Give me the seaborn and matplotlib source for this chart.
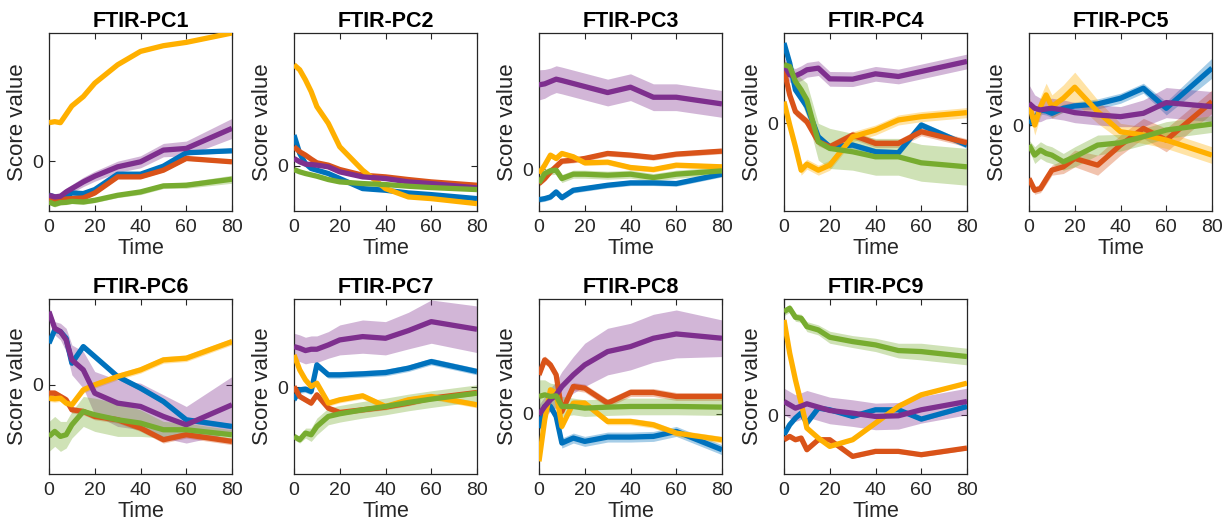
import matplotlib
matplotlib.use("Agg")
import matplotlib.pyplot as plt
import seaborn as sns
import numpy as np
import pandas as pd

TIME = [0, 2.5, 5, 7.5, 10, 15, 20, 30, 40, 50, 60, 80]
SERIES = ["blue", "red", "yellow", "purple", "green"]
COLORS = {"blue": "#0072BD", "red": "#D95319", "yellow": "#FFB000",
          "purple": "#7E2F8E", "green": "#77AC30"}
TITLES = [f"FTIR-PC{i}" for i in range(1, 10)]
XTICKS = [0, 20, 40, 60, 80]

# ---------- panel data (means) ----------
PC1 = {
    "blue":   [-1.02, -1.07, -1.15, -1.05, -0.95, -0.97, -0.85, -0.39, -0.39, -0.15, 0.25, 0.31],
    "red":    [-1.12, -1.17, -1.15, -1.13, -1.12, -1.10, -0.95, -0.47, -0.47, -0.27, 0.08, -0.02],
    "yellow": [1.15, 1.18, 1.15, 1.40, 1.65, 1.93, 2.33, 2.88, 3.28, 3.45, 3.55, 3.83],
    "purple": [-1.02, -1.07, -1.05, -0.92, -0.82, -0.62, -0.45, -0.17, -0.02, 0.33, 0.38, 0.98],
    "green":  [-1.22, -1.29, -1.24, -1.23, -1.20, -1.22, -1.17, -1.02, -0.92, -0.74, -0.72, -0.54],
}
PC2 = {
    "blue":   [0.92, 0.37, 0.07, -0.08, -0.13, -0.23, -0.38, -0.68, -0.73, -0.81, -0.86, -0.98],
    "red":    [0.57, 0.42, 0.32, 0.20, 0.09, 0.02, -0.11, -0.28, -0.33, -0.41, -0.48, -0.58],
    "yellow": [3.02, 2.87, 2.57, 2.22, 1.77, 1.27, 0.57, -0.13, -0.68, -0.93, -0.98, -1.13],
    "purple": [0.22, 0.12, 0.05, 0.04, 0.02, -0.03, -0.18, -0.33, -0.38, -0.48, -0.53, -0.66],
    "green":  [-0.11, -0.18, -0.23, -0.27, -0.31, -0.41, -0.48, -0.53, -0.56, -0.61, -0.65, -0.71],
}
PC3 = {
    "blue":   [-0.91, -0.88, -0.83, -0.68, -0.85, -0.63, -0.58, -0.48, -0.41, -0.41, -0.43, -0.15],
    "red":    [-0.43, -0.28, -0.08, 0.08, 0.24, 0.27, 0.32, 0.47, 0.42, 0.35, 0.45, 0.54],
    "yellow": [-0.13, 0.12, 0.42, 0.32, 0.47, 0.37, 0.19, 0.21, 0.05, -0.01, 0.12, 0.07],
    "purple": [2.52, 2.55, 2.62, 2.69, 2.65, 2.56, 2.47, 2.29, 2.45, 2.15, 2.15, 1.95],
    "green":  [-0.41, -0.13, -0.05, -0.03, -0.28, -0.15, -0.15, -0.18, -0.15, -0.25, -0.15, -0.05],
}
PC4 = {
    "blue":   [2.40, 1.80, 1.00, 0.75, 0.50, -0.40, -0.70, -0.65, -0.85, -0.88, -0.05, -0.65],
    "red":    [1.60, 0.85, 0.35, 0.20, 0.05, -0.55, -0.70, -0.35, -0.60, -0.60, -0.25, -0.58],
    "yellow": [0.65, -0.05, -0.70, -1.40, -1.22, -1.40, -1.25, -0.40, -0.20, 0.10, 0.20, 0.32],
    "purple": [1.75, 1.45, 1.42, 1.50, 1.60, 1.65, 1.33, 1.32, 1.48, 1.40, 1.55, 1.85],
    "green":  [1.75, 1.70, 1.25, 1.00, 0.70, -0.55, -0.75, -0.85, -1.00, -1.00, -1.18, -1.30],
}
PC5 = {
    "blue":   [0.05, 0.20, 0.45, 0.42, 0.35, 0.50, 0.57, 0.63, 0.80, 1.10, 0.50, 1.70],
    "red":    [-1.60, -1.95, -1.90, -1.62, -1.35, -1.25, -1.00, -1.20, -0.60, -0.10, -0.45, 0.70],
    "yellow": [0.65, 0.00, 0.55, 0.90, 0.55, 0.80, 1.13, 0.40, -0.20, -0.30, -0.45, -0.90],
    "purple": [0.65, 0.50, 0.45, 0.48, 0.50, 0.45, 0.37, 0.30, 0.25, 0.35, 0.67, 0.55],
    "green":  [-0.60, -0.90, -0.75, -0.85, -0.90, -1.10, -0.95, -0.60, -0.53, -0.35, -0.15, 0.03],
}
PC6 = {
    "blue":   [1.25, 1.65, 1.60, 1.40, 0.65, 1.15, 0.85, 0.25, -0.10, -0.50, -1.05, -1.25],
    "red":    [-0.25, -0.25, -0.35, -0.45, -0.75, -0.80, -0.95, -1.05, -1.30, -1.65, -1.50, -1.70],
    "yellow": [-0.40, -0.42, -0.40, -0.55, -0.60, -0.15, 0.00, 0.25, 0.45, 0.75, 0.80, 1.30],
    "purple": [2.20, 1.70, 1.60, 1.35, 0.75, 0.45, -0.25, -0.55, -0.65, -0.95, -1.20, -0.60],
    "green":  [-1.55, -1.40, -1.55, -1.50, -1.20, -0.80, -0.90, -1.05, -1.15, -1.35, -1.35, -1.50],
}
PC7 = {
    "blue":   [-0.37, -0.07, -0.05, -0.12, 0.68, 0.38, 0.38, 0.41, 0.45, 0.58, 0.78, 0.48],
    "red":    [0.03, -0.27, -0.37, -0.47, -0.22, -0.62, -0.75, -0.67, -0.59, -0.47, -0.32, -0.15],
    "yellow": [0.98, 0.53, 0.23, 0.03, 0.13, -0.47, -0.37, -0.25, -0.57, -0.37, -0.27, -0.52],
    "purple": [1.23, 1.18, 1.11, 1.15, 1.15, 1.28, 1.43, 1.53, 1.48, 1.71, 1.98, 1.75],
    "green":  [-1.47, -1.57, -1.37, -1.42, -1.17, -0.87, -0.79, -0.67, -0.57, -0.45, -0.35, -0.17],
}
PC8 = {
    "blue":   [-0.43, 0.22, 0.22, -0.08, -0.88, -0.73, -0.83, -0.70, -0.70, -0.68, -0.53, -1.08],
    "red":    [1.17, 1.62, 1.47, 1.17, 0.07, 0.82, 0.77, 0.32, 0.64, 0.64, 0.52, 0.52],
    "yellow": [-1.43, -0.18, 0.72, 0.62, -0.38, 0.32, 0.32, -0.23, -0.23, -0.33, -0.58, -0.78],
    "purple": [-0.03, 0.22, 0.42, 0.57, 0.82, 1.17, 1.47, 1.87, 2.02, 2.27, 2.40, 2.27],
    "green":  [0.52, 0.57, 0.52, 0.54, 0.22, 0.22, 0.17, 0.20, 0.22, 0.22, 0.22, 0.20],
}
PC9 = {
    "blue":   [-0.58, -0.28, -0.08, 0.07, -0.23, 0.22, 0.17, -0.03, 0.17, 0.17, -0.11, 0.27],
    "red":    [-0.73, -0.63, -0.73, -0.68, -1.03, -0.73, -0.73, -1.23, -1.08, -1.08, -1.18, -0.98],
    "yellow": [2.87, 1.87, 1.07, 0.37, -0.38, -0.68, -0.93, -0.73, -0.23, 0.27, 0.62, 0.97],
    "purple": [0.42, 0.32, 0.22, 0.28, 0.35, 0.25, 0.15, 0.07, -0.03, -0.01, 0.17, 0.42],
    "green":  [3.12, 3.22, 2.95, 2.92, 2.67, 2.57, 2.35, 2.22, 2.12, 1.95, 1.92, 1.77],
}

# ---------- band half-widths ----------
PC1_ERR = {
    "blue":   [0.06] * 12,
    "red":    [0.05] * 12,
    "yellow": [0.04] * 12,
    "purple": [0.10, 0.10, 0.10, 0.12, 0.12, 0.14, 0.15, 0.17, 0.18, 0.20, 0.22, 0.30],
    "green":  [0.08, 0.08, 0.07, 0.07, 0.07, 0.07, 0.07, 0.07, 0.08, 0.08, 0.09, 0.12],
}
PC2_ERR = {s: [0.04] * 12 for s in SERIES}
PC3_ERR = {
    "blue":   [0.08] * 12,
    "red":    [0.08] * 12,
    "yellow": [0.08] * 12,
    "purple": [0.45, 0.43, 0.40, 0.40, 0.40, 0.40, 0.40, 0.40, 0.40, 0.40, 0.40, 0.40],
    "green":  [0.12] * 12,
}
PC4_ERR = {
    "blue":   [0.10] * 12,
    "red":    [0.12] * 12,
    "yellow": [0.15] * 12,
    "purple": [0.22] * 12,
    "green":  [0.10, 0.15, 0.25, 0.35, 0.50, 0.55, 0.60, 0.55, 0.55, 0.55, 0.55, 0.55],
}
PC5_ERR = {
    "blue":   [0.12, 0.12, 0.12, 0.12, 0.12, 0.12, 0.12, 0.15, 0.15, 0.15, 0.20, 0.30],
    "red":    [0.12, 0.12, 0.12, 0.15, 0.15, 0.20, 0.25, 0.30, 0.30, 0.30, 0.35, 0.35],
    "yellow": [0.20, 0.30, 0.30, 0.35, 0.35, 0.40, 0.45, 0.35, 0.25, 0.25, 0.25, 0.25],
    "purple": [0.55, 0.40, 0.35, 0.30, 0.30, 0.30, 0.30, 0.30, 0.30, 0.40, 0.45, 0.45],
    "green":  [0.15, 0.25, 0.25, 0.25, 0.25, 0.25, 0.30, 0.30, 0.25, 0.25, 0.25, 0.25],
}
PC6_ERR = {
    "blue":   [0.08] * 12,
    "red":    [0.10] * 12,
    "yellow": [0.10] * 12,
    "purple": [0.12, 0.20, 0.25, 0.35, 0.45, 0.55, 0.65, 0.70, 0.70, 0.65, 0.55, 0.85],
    "green":  [0.45, 0.45, 0.45, 0.40, 0.40, 0.45, 0.50, 0.50, 0.40, 0.25, 0.20, 0.15],
}
PC7_ERR = {
    "blue":   [0.10] * 12,
    "red":    [0.08] * 12,
    "yellow": [0.09] * 12,
    "purple": [0.40, 0.40, 0.40, 0.40, 0.40, 0.40, 0.45, 0.50, 0.50, 0.55, 0.65, 0.70],
    "green":  [0.10, 0.10, 0.15, 0.20, 0.25, 0.25, 0.25, 0.25, 0.25, 0.25, 0.25, 0.25],
}
PC8_ERR = {
    "blue":   [0.15] * 12,
    "red":    [0.12] * 12,
    "yellow": [0.10] * 12,
    "purple": [0.30, 0.30, 0.35, 0.40, 0.45, 0.55, 0.65, 0.70, 0.70, 0.72, 0.72, 0.55],
    "green":  [0.50, 0.45, 0.40, 0.35, 0.30, 0.25, 0.25, 0.25, 0.25, 0.25, 0.25, 0.25],
}
PC9_ERR = {
    "blue":   [0.06] * 12,
    "red":    [0.06] * 12,
    "yellow": [0.05] * 12,
    "purple": [0.40] * 12,
    "green":  [0.12, 0.12, 0.12, 0.12, 0.15, 0.15, 0.18, 0.18, 0.20, 0.22, 0.25, 0.25],
}

YLIMS = [(-1.49, 3.83), (-1.35, 3.97), (-1.25, 4.07), (-2.62, 2.70), (-2.57, 2.75),
         (-2.68, 2.58), (-2.60, 2.66), (-1.81, 3.45), (-1.76, 3.50)]

PANELS = [PC1, PC2, PC3, PC4, PC5, PC6, PC7, PC8, PC9]
ERRS = [PC1_ERR, PC2_ERR, PC3_ERR, PC4_ERR, PC5_ERR, PC6_ERR, PC7_ERR, PC8_ERR, PC9_ERR]

sns.set_style("ticks")
plt.rcParams["font.family"] = ["Liberation Sans", "DejaVu Sans"]

W, H = 1225, 522
fig = plt.figure(figsize=(W / 100, H / 100), dpi=100)

ax_w = 183 / W
lefts = [49, 294, 539, 784, 1029]
rows = [(33, 211), (299, 474)]
TXT = "#262626"

for i, (title, means, errs, ylim) in enumerate(zip(TITLES, PANELS, ERRS, YLIMS)):
    r, c = divmod(i, 5)
    top, bot = rows[r]
    ax = fig.add_axes([lefts[c] / W, 1 - bot / H, ax_w, (bot - top) / H])
    for s in SERIES:
        m = np.array(means[s])
        e = np.array(errs[s])
        ax.fill_between(TIME, m - e, m + e, color=COLORS[s], alpha=0.35,
                        linewidth=0, zorder=2)
        df = pd.DataFrame({"Time": TIME, "v": m})
        sns.lineplot(data=df, x="Time", y="v", ax=ax, color=COLORS[s],
                     linewidth=3.8, zorder=3, solid_capstyle="butt")
    ax.set_xlim(0, 80)
    ax.set_ylim(*ylim)
    ax.set_xticks(XTICKS)
    ax.set_yticks([0])
    ax.set_yticklabels(["0"])
    ax.tick_params(direction="in", length=4, width=0.8, top=True, right=True,
                   labelsize=14, color=TXT, labelcolor=TXT)
    ax.tick_params(axis="x", pad=6)
    ax.tick_params(axis="y", pad=4)
    for sp in ax.spines.values():
        sp.set_visible(True)
        sp.set_color(TXT)
        sp.set_linewidth(0.9)
    ax.set_xlabel("Time", fontsize=15.5, color=TXT, labelpad=1)
    ax.set_ylabel("Score value", fontsize=16, color=TXT, labelpad=3)
    ax.set_title(title, fontsize=15.5, fontweight="bold", pad=4, color="black")

fig.savefig("out.png", dpi=100)
